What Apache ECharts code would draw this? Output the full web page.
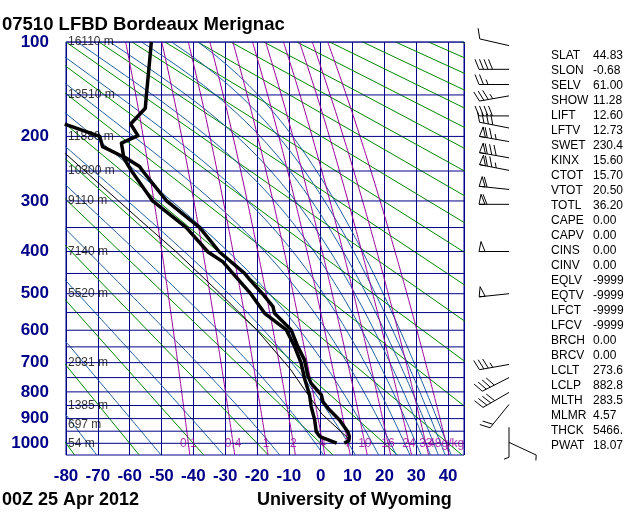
<!DOCTYPE html>
<html>
<head>
<meta charset="utf-8">
<script src="https://cdn.jsdelivr.net/npm/echarts@6/dist/echarts.min.js"></script>
<style>
html, body { margin: 0; padding: 0; background: #fff; }
#main { width: 640px; height: 512px; }
</style>
</head>
<body>
<div id="main"></div>
<script>
// Stuve diagram: y = p^kappa, x = temperature
const K = 0.286;

const isobars = [100, 150, 200, 250, 300, 350, 400, 450, 500, 550, 600, 650, 700, 750, 800, 850, 900, 950, 1000];
const pressureLabels = [100, 200, 300, 400, 500, 600, 700, 800, 900, 1000];
const heightP = [100, 150, 200, 250, 300, 400, 500, 700, 850, 925, 1000];
const heightText = ['16110 m', '13510 m', '11880 m', '10300 m', '9110 m', '7140 m', '5520 m', '2931 m', '1385 m', '697 m', '54 m'];

// dry adiabats (theta, deg C), moist adiabats (theta-e, K), mixing ratios (g/kg)
const dryTheta = [-80, -60, -40, -20, 0, 20, 40, 60, 80, 100, 120, 140, 160, 180, 200, 220, 240, 260, 280, 300, 320, 340];
const moistThetaE = [200, 220, 240, 260, 280, 300, 320, 340, 360, 380, 400, 420, 440, 460];
const mixRatios = [0.1, 0.4, 1, 2, 4, 7, 10, 16, 24, 33, 48];

// sounding 07510 00Z 25 Apr 2012
const tempP = [999, 990, 972, 952, 925, 905, 867, 836, 811, 770, 745, 691, 649, 599, 552, 534, 500, 465, 450, 401, 350, 300, 250, 243, 228, 209, 199, 184, 165, 152, 115, 100];
const tempT = [7.4, 8.8, 9.0, 8.5, 7.0, 5.9, 2.8, 0.7, 0.2, -3.0, -4.0, -5.1, -7.2, -9.3, -14.5, -15.0, -18.3, -22.3, -23.9, -31.8, -38.0, -48.4, -55.9, -56.9, -61.9, -62.6, -57.4, -59.7, -55.1, -54.8, -53.7, -53.2];
const dewP = [999, 993, 972, 952, 905, 854, 811, 752, 700, 649, 599, 552, 500, 450, 423, 401, 350, 300, 250, 228, 214, 200, 184];
const dewT = [5.0, 4.4, -0.3, -1.4, -1.9, -3.0, -3.5, -5.1, -6.2, -8.2, -10.8, -17.6, -22.0, -27.6, -30.7, -35.4, -42.2, -52.8, -59.4, -62.2, -68.5, -69.4, -80.4];
const parcelP = [985, 883, 800, 722, 600, 498, 400, 334, 223];
const parcelT = [9.1, 0.45, -4.6, -9.5, -20.0, -31.8, -45.5, -57.0, -80.4];

// winds: pressure (hPa), direction (deg), speed (kt)
const windP = [103, 124, 139, 151, 174, 189, 207, 230, 249, 280, 306, 400, 500, 706, 750, 802, 846, 934, 996];
const windDir = [283, 270, 270, 260, 270, 281, 280, 280, 281, 276, 270, 270, 264, 260, 243, 240, 219, 180, 115];
const windSpd = [10, 40, 25, 35, 40, 40, 75, 80, 75, 60, 60, 50, 50, 35, 40, 40, 20, 5, 5];

const indexNames = ['SLAT', 'SLON', 'SELV', 'SHOW', 'LIFT', 'LFTV', 'SWET', 'KINX', 'CTOT', 'VTOT', 'TOTL', 'CAPE', 'CAPV', 'CINS', 'CINV', 'EQLV', 'EQTV', 'LFCT', 'LFCV', 'BRCH', 'BRCV', 'LCLT', 'LCLP', 'MLTH', 'MLMR', 'THCK', 'PWAT'];
const indexValues = ['44.83', '-0.68', '61.00', '11.28', '12.60', '12.73', '230.4', '15.60', '15.70', '20.50', '36.20', '0.00', '0.00', '0.00', '0.00', '-9999', '-9999', '-9999', '-9999', '0.00', '0.00', '273.6', '882.8', '283.5', '4.57', '5466.', '18.07'];

const NAVY = '#000088';
const GREEN = '#008800';
const MOIST = '#1f5f9f';
const PURPLE = '#990099';
const FONT = '"Liberation Sans", Arial, Helvetica, sans-serif';

function pk(p) { return Math.pow(p, K); }

function thetaE(T, p) {
    let Tk = T + 273.15;
    let es = 6.112 * Math.exp(17.67 * T / (T + 243.5));
    let rs = 0.622 * es / (p - es);
    return Tk * Math.pow(1000 / p, K) * Math.exp(2.501e6 * rs / (1004 * Tk));
}

// temperature on a theta-e line at pressure p (bisection)
function moistT(te, p) {
    let lo = -160, hi = 45;
    if (thetaE(hi, p) < te) return 47;
    for (let i = 0; i < 40; i++) {
        let mid = (lo + hi) / 2;
        if (thetaE(mid, p) < te) lo = mid; else hi = mid;
    }
    return (lo + hi) / 2;
}

function mixTd(w, p) {
    let e = w * p / (622 + w);
    let a = Math.log(e / 6.112);
    return 243.5 * a / (17.67 - a);
}

let series = [];

dryTheta.forEach(th => {
    series.push({
        type: 'line', silent: true, symbol: 'none', z: 2,
        lineStyle: { color: GREEN, width: 1 },
        data: [100, 1050].map(p => [(th + 273.15) * Math.pow(p / 1000, K) - 273.15, pk(p)])
    });
});

moistThetaE.forEach(te => {
    let d = [];
    for (let p = 1050; p >= 100; p -= 10) d.push([moistT(te, p), pk(p)]);
    series.push({
        type: 'line', silent: true, symbol: 'none', z: 2,
        lineStyle: { color: MOIST, width: 1 },
        data: d
    });
});

mixRatios.forEach(w => {
    let d = [];
    for (let p = 100; p <= 1050; p += 50) d.push([mixTd(w, p), pk(p)]);
    series.push({
        type: 'line', silent: true, symbol: 'none', z: 2, smooth: true,
        lineStyle: { color: PURPLE, width: 1 },
        data: d
    });
});

isobars.forEach(p => {
    series.push({
        type: 'line', silent: true, symbol: 'none', z: 3,
        lineStyle: { color: NAVY, width: 1 },
        data: [[-80, pk(p)], [45, pk(p)]]
    });
});

// mixing ratio labels at 1000 hPa
series.push({
    type: 'scatter', silent: true, symbolSize: 0, z: 4,
    data: mixRatios.map((w, i) => ({
        value: [mixTd(w, 1000), pk(1000)],
        label: { formatter: i === mixRatios.length - 1 ? w + 'g/kg' : String(w) }
    })),
    label: { show: true, position: 'inside', color: PURPLE, fontSize: 12, fontFamily: FONT }
});

// height labels
series.push({
    type: 'scatter', silent: true, symbolSize: 0, z: 4,
    data: heightP.map((p, i) => ({ value: [-80, pk(p)], label: { formatter: heightText[i] } })),
    label: { show: true, position: 'right', distance: 2, color: '#000', fontSize: 12, fontFamily: FONT }
});

series.push({
    type: 'line', silent: true, symbol: 'none', z: 5,
    lineStyle: { color: '#000', width: 1 },
    data: parcelP.map((p, i) => [parcelT[i], pk(p)])
});
series.push({
    type: 'line', silent: true, symbol: 'none', z: 6,
    lineStyle: { color: '#000', width: 3.5, join: 'round' },
    data: dewP.map((p, i) => [dewT[i], pk(p)])
});
series.push({
    type: 'line', silent: true, symbol: 'none', z: 6,
    lineStyle: { color: '#000', width: 3.5, join: 'round' },
    data: tempP.map((p, i) => [tempT[i], pk(p)])
});

// wind barbs in their own column grid
function renderBarb(params, api) {
    let base = api.coord([api.value(0), api.value(1)]);
    let a = api.value(2) * Math.PI / 180;
    let tx = Math.sin(a), ty = -Math.cos(a);
    let px = -ty, py = tx;
    let L = 30;
    let tail = [base[0] + L * tx, base[1] + L * ty];
    let st = { stroke: '#000', lineWidth: 1, fill: null };
    let kids = [{ type: 'line', shape: { x1: base[0], y1: base[1], x2: tail[0], y2: tail[1] }, style: st }];
    let at = d => [tail[0] - d * tx, tail[1] - d * ty];
    let s = Math.round(api.value(3) / 5) * 5;
    let pos = 0;
    while (s >= 50) {
        let p0 = at(pos), p1 = at(pos + 6), m = at(pos + 2);
        kids.push({ type: 'polygon', shape: { points: [p0, [m[0] + 10 * px, m[1] + 10 * py], p1] }, style: { stroke: '#000', lineWidth: 1, fill: 'none' } });
        pos += 8; s -= 50;
    }
    while (s >= 10) {
        let p0 = at(pos);
        kids.push({ type: 'line', shape: { x1: p0[0], y1: p0[1], x2: p0[0] + 10 * px + 4 * tx, y2: p0[1] + 10 * py + 4 * ty }, style: st });
        pos += 4.5; s -= 10;
    }
    if (s >= 5) {
        let p0 = at(pos);
        kids.push({ type: 'line', shape: { x1: p0[0], y1: p0[1], x2: p0[0] + 5 * px + 2 * tx, y2: p0[1] + 5 * py + 2 * ty }, style: st });
    }
    return { type: 'group', children: kids };
}

series.push({
    type: 'custom', xAxisIndex: 1, yAxisIndex: 1, silent: true, z: 5,
    renderItem: renderBarb,
    data: windP.map((p, i) => [44, pk(p), windDir[i], windSpd[i]])
});

let graphics = [
    { type: 'text', left: 2, top: 15, style: { text: '07510 LFBD Bordeaux Merignac', font: 'bold 18.5px ' + FONT, fill: '#000' } },
    { type: 'text', left: 2, top: 491, style: { text: '00Z 25 Apr 2012', font: 'bold 18px ' + FONT, fill: '#000' } },
    { type: 'text', left: 257, top: 491, style: { text: 'University of Wyoming', font: 'bold 18px ' + FONT, fill: '#000' } }
];
indexNames.forEach((n, i) => {
    graphics.push({ type: 'text', left: 551, top: 50 + i * 15, style: { text: n, font: '12px ' + FONT, fill: '#000' } });
    graphics.push({ type: 'text', left: 593, top: 50 + i * 15, style: { text: indexValues[i], font: '12px ' + FONT, fill: '#000' } });
});

const chart = echarts.init(document.getElementById('main'), null, { renderer: 'canvas' });
chart.setOption({
    animation: false,
    backgroundColor: '#fff',
    grid: [
        { left: 66, top: 42, right: 176, bottom: 57, show: true, borderColor: NAVY, borderWidth: 1, backgroundColor: 'transparent' },
        { left: 465, top: 42, width: 80, bottom: 57 }
    ],
    xAxis: [
        {
            gridIndex: 0, type: 'value', min: -80, max: 45, interval: 10,
            axisLine: { show: false }, axisTick: { show: false },
            axisLabel: { color: NAVY, fontSize: 17, fontWeight: 'bold', fontFamily: FONT, margin: 13, formatter: v => (v > 40 ? '' : String(v)) },
            splitLine: { show: true, lineStyle: { color: NAVY, width: 1 } }
        },
        { gridIndex: 1, type: 'value', min: 0, max: 80, show: false }
    ],
    yAxis: [
        {
            gridIndex: 0, type: 'value', inverse: true, min: pk(100), max: pk(1050),
            axisLine: { show: false }, axisTick: { show: false }, splitLine: { show: false },
            axisLabel: {
                customValues: pressureLabels.map(pk),
                color: NAVY, fontSize: 17, fontWeight: 'bold', fontFamily: FONT, margin: 17,
                formatter: v => String(Math.round(Math.pow(v, 1 / K)))
            }
        },
        { gridIndex: 1, type: 'value', inverse: true, min: pk(100), max: pk(1050), show: false }
    ],
    graphic: graphics,
    series: series
});
</script>
</body>
</html>
